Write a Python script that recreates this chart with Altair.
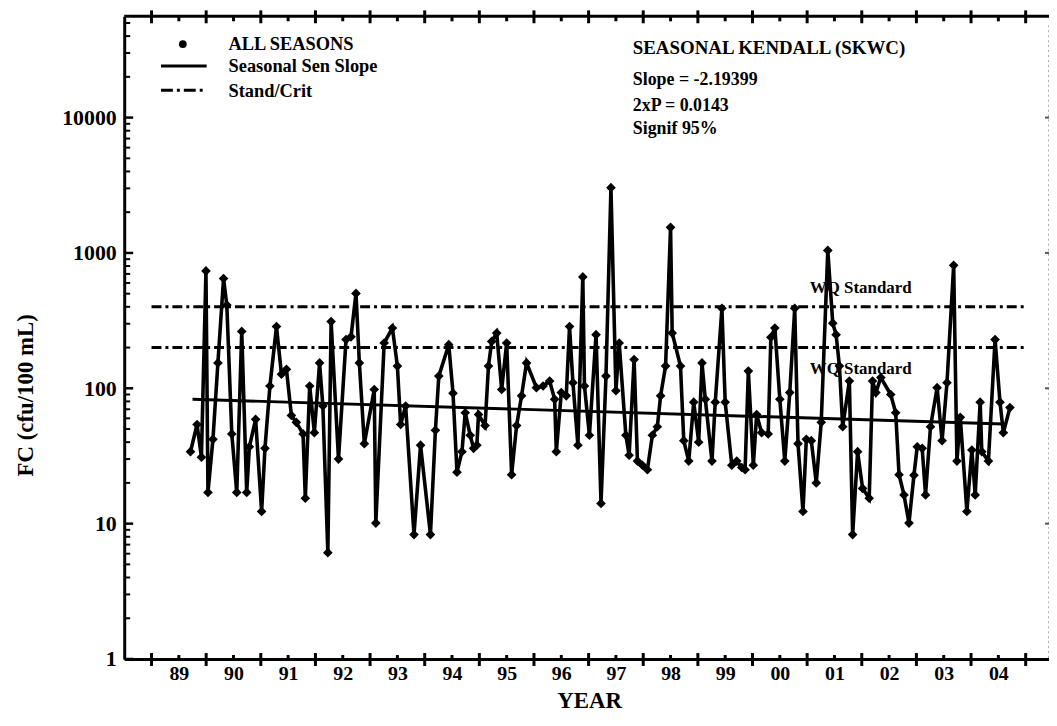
import altair as alt
import pandas as pd

# ---------------- data ----------------
years = [
    1989.213, 1989.333, 1989.413, 1989.496, 1989.533, 1989.624, 1989.715, 1989.818,
    1989.878, 1989.969, 1990.060, 1990.151, 1990.242, 1990.291, 1990.405, 1990.515,
    1990.576, 1990.667, 1990.787, 1990.878, 1990.969, 1991.060, 1991.150, 1991.273,
    1991.315, 1991.395, 1991.480, 1991.576, 1991.636, 1991.727, 1991.787, 1991.922,
    1992.060, 1992.151, 1992.242, 1992.304, 1992.395, 1992.576, 1992.605, 1992.758,
    1992.909, 1993.000, 1993.060, 1993.151, 1993.304, 1993.424, 1993.605, 1993.696,
    1993.758, 1993.940, 1994.018, 1994.091, 1994.182, 1994.242, 1994.333, 1994.395,
    1994.455, 1994.485, 1994.605, 1994.667, 1994.727, 1994.818, 1994.909, 1995.000,
    1995.091, 1995.182, 1995.273, 1995.364, 1995.545, 1995.667, 1995.787, 1995.878,
    1995.909, 1996.000, 1996.091, 1996.151, 1996.213, 1996.304, 1996.394, 1996.424,
    1996.515, 1996.636, 1996.727, 1996.818, 1996.909, 1997.000, 1997.060, 1997.182,
    1997.242, 1997.333, 1997.394, 1997.485, 1997.576, 1997.667, 1997.758, 1997.818,
    1997.909, 1998.000, 1998.030, 1998.182, 1998.242, 1998.333, 1998.424, 1998.515,
    1998.576, 1998.636, 1998.758, 1998.818, 1998.940, 1999.000, 1999.121, 1999.212,
    1999.303, 1999.364, 1999.424, 1999.515, 1999.576, 1999.667, 1999.787, 1999.836,
    1999.909, 2000.000, 2000.091, 2000.182, 2000.273, 2000.333, 2000.424, 2000.485,
    2000.576, 2000.667, 2000.758, 2000.878, 2000.969, 2001.030, 2001.091, 2001.151,
    2001.273, 2001.333, 2001.424, 2001.515, 2001.636, 2001.697, 2001.758, 2001.849,
    2002.030, 2002.121, 2002.182, 2002.273, 2002.364, 2002.455, 2002.515, 2002.606,
    2002.667, 2002.758, 2002.879, 2002.970, 2003.060, 2003.182, 2003.242, 2003.303,
    2003.424, 2003.515, 2003.576, 2003.667, 2003.697, 2003.818, 2003.940, 2004.030,
    2004.091, 2004.212,
]
fc = [
    34, 54, 31, 736, 17, 42, 154, 647,
    412, 46, 17, 263, 17, 37, 59, 12.3,
    36, 104, 286, 127, 138, 63, 56, 46,
    15.4, 104, 47, 154, 74, 6.1, 311, 30,
    229, 240, 502, 154, 39, 98, 10.1, 216,
    279, 146, 54, 74, 8.3, 38, 8.3, 49,
    123, 210, 92, 24, 34, 66, 45, 36,
    38, 64, 53, 146, 222, 256, 98, 216,
    23, 53, 88, 154, 101, 104, 113, 83,
    34, 93, 88, 286, 110, 38, 665, 104,
    45, 249, 14.1, 123, 3035, 96, 216, 45,
    32, 163, 29, 27, 25, 45, 52, 88,
    146, 1545, 256, 146, 41, 29, 79, 40,
    154, 83, 29, 79, 390, 79, 27, 29,
    26, 25, 134, 27, 64, 47, 46, 238,
    279, 83, 29, 93, 390, 39, 12.3, 42,
    41, 20, 56, 1043, 303, 249, 146, 52,
    113, 8.3, 34, 18.2, 15.4, 113, 93, 120,
    90, 66, 23, 16.3, 10.1, 22.8, 37, 36,
    16.3, 52, 101, 41, 110, 810, 29, 61,
    12.3, 35, 16.3, 79, 34, 29, 229, 79,
    47, 72,
]

trend_years = [1989.25, 2004.09]
trend_fc = [83, 54.5]

std_levels = [400, 200]
std_labels = ["WQ Standard", "WQ Standard"]
std_start = [1988.5, 1988.5]
std_end = [2004.5, 2004.5]
std_label_year = [2000.55, 2000.55]

label_years = [1989, 1990, 1991, 1992, 1993, 1994, 1995, 1996,
               1997, 1998, 1999, 2000, 2001, 2002, 2003, 2004]
boundary_years = [1988.5, 1989.5, 1990.5, 1991.5, 1992.5, 1993.5, 1994.5, 1995.5,
                  1996.5, 1997.5, 1998.5, 1999.5, 2000.5, 2001.5, 2002.5, 2003.5, 2004.5]
decade_ticks = [1, 10, 100, 1000, 10000]
minor_ticks = [2, 3, 4, 5, 6, 7, 8, 9,
               20, 30, 40, 50, 60, 70, 80, 90,
               200, 300, 400, 500, 600, 700, 800, 900,
               2000, 3000, 4000, 5000, 6000, 7000, 8000, 9000,
               20000, 30000, 40000, 50000]

legend_labels = ["ALL SEASONS", "Seasonal Sen Slope", "Stand/Crit"]
stats_lines = ["SEASONAL KENDALL (SKWC)", "Slope = -2.19399", "2xP = 0.0143", "Signif 95%"]

# ---------------- chart ----------------
W, H = 931, 647
FONT = "Liberation Serif"

xs = alt.Scale(domain=[1988.0, 2004.927], nice=False, zero=False)
ys = alt.Scale(type="log", domain=[1, 56000], nice=False)

x_axis = alt.Axis(
    values=label_years,
    labelExpr="slice('0' + (datum.value % 100), -2)",
    ticks=False, tickSize=0, grid=False,
    domain=True, domainColor="black", domainWidth=3,
    labelFont=FONT, labelFontSize=20, labelFontWeight="bold", labelColor="black",
    labelPadding=5, labelFlush=False, labelOverlap=False,
    title="YEAR", titleFont=FONT, titleFontSize=23, titleFontWeight="bold",
    titleColor="black", titleX=468, titleY=42, titleBaseline="middle", titleAlign="center",
)
y_axis = alt.Axis(
    values=decade_ticks, format="d",
    ticks=False, tickSize=0, grid=False,
    domain=True, domainColor="black", domainWidth=3,
    labelFont=FONT, labelFontSize=22, labelFontWeight="bold", labelColor="black",
    labelPadding=8, labelFlush=False, labelOverlap=False,
    title="FC (cfu/100 mL)", titleFont=FONT, titleFontSize=23, titleFontWeight="bold",
    titleColor="black", titleX=-99, titleY=381, titleAngle=270,
    titleBaseline="middle", titleAlign="center",
)


def X(field):
    return alt.X(field, type="quantitative", scale=xs, axis=x_axis)


def Y(field):
    return alt.Y(field, type="quantitative", scale=ys, axis=y_axis)


data_df = pd.DataFrame({"year": years, "fc": fc})
trend_df = pd.DataFrame({"year": trend_years, "fc": trend_fc})
std_df = pd.DataFrame({"year": std_start, "year_end": std_end, "fc": std_levels})
one = pd.DataFrame({"k": [0]})

std_rules = alt.Chart(std_df).mark_rule(
    color="black", strokeWidth=3, strokeDash=[10, 4, 3, 4]
).encode(x=X("year"), x2="year_end", y=Y("fc"))

wq_up = alt.Chart(pd.DataFrame({"year": [std_label_year[0]], "fc": [std_levels[0]], "t": [std_labels[0]]})).mark_text(
    align="left", baseline="alphabetic", dy=-14, font=FONT, fontSize=17, fontWeight="bold", color="black"
).encode(x=X("year"), y=Y("fc"), text="t")
wq_lo = alt.Chart(pd.DataFrame({"year": [std_label_year[1]], "fc": [std_levels[1]], "t": [std_labels[1]]})).mark_text(
    align="left", baseline="alphabetic", dy=27, font=FONT, fontSize=17, fontWeight="bold", color="black"
).encode(x=X("year"), y=Y("fc"), text="t")

trend = alt.Chart(trend_df).mark_line(color="black", strokeWidth=3).encode(x=X("year"), y=Y("fc"))
series_line = alt.Chart(data_df).mark_line(color="black", strokeWidth=3.6).encode(x=X("year"), y=Y("fc"))
series_pts = alt.Chart(data_df).mark_point(
    shape="diamond", filled=True, size=95, color="black", opacity=1
).encode(x=X("year"), y=Y("fc"))

# frame and ticks
bt = pd.DataFrame({"year": boundary_years})
lt = pd.DataFrame({"year": label_years})
dt = pd.DataFrame({"fc": decade_ticks})
mt = pd.DataFrame({"fc": minor_ticks})

top_line = alt.Chart(one).mark_rule(color="black", strokeWidth=3).encode(
    x=alt.value(0), x2=alt.value(W), y=alt.value(0))
right_line = alt.Chart(one).mark_rule(color="#777777", strokeWidth=1.2, strokeDash=[2, 3]).encode(
    x=alt.value(W), y=alt.value(9), y2=alt.value(H))

bottom_major = alt.Chart(bt).mark_rule(color="black", strokeWidth=3).encode(
    x=X("year"), y=alt.value(H - 6), y2=alt.value(H + 7))
top_major = alt.Chart(bt).mark_rule(color="black", strokeWidth=3).encode(
    x=X("year"), y=alt.value(-6), y2=alt.value(7))
bottom_minor = alt.Chart(lt).mark_rule(color="black", strokeWidth=3).encode(
    x=X("year"), y=alt.value(H - 4), y2=alt.value(H))
top_minor = alt.Chart(lt).mark_rule(color="black", strokeWidth=3).encode(
    x=X("year"), y=alt.value(0), y2=alt.value(5))
left_major = alt.Chart(dt).mark_rule(color="black", strokeWidth=2.5).encode(
    y=Y("fc"), x=alt.value(0), x2=alt.value(9))
left_minor = alt.Chart(mt).mark_rule(color="black", strokeWidth=2).encode(
    y=Y("fc"), x=alt.value(0), x2=alt.value(6))
right_major = alt.Chart(dt[dt["fc"] > 1]).mark_rule(color="#555555", strokeWidth=2).encode(
    y=Y("fc"), x=alt.value(W - 4), x2=alt.value(W))


def label(txt, x, y, size):
    return alt.Chart(one).mark_text(
        align="left", baseline="middle", font=FONT, fontSize=size, fontWeight="bold", color="black"
    ).encode(x=alt.value(x), y=alt.value(y), text=alt.value(txt))


legend_dot = alt.Chart(one).mark_point(shape="circle", filled=True, size=60, color="black", opacity=1).encode(
    x=alt.value(59), y=alt.value(28))
legend_solid = alt.Chart(one).mark_rule(color="black", strokeWidth=3).encode(
    x=alt.value(37), x2=alt.value(83), y=alt.value(50))
legend_dash = alt.Chart(one).mark_rule(color="black", strokeWidth=3, strokeDash=[12, 4, 3, 4]).encode(
    x=alt.value(37), x2=alt.value(83), y=alt.value(74.5))

texts = [
    label(legend_labels[0], 105, 28, 18.5),
    label(legend_labels[1], 105, 50, 18.5),
    label(legend_labels[2], 105, 75, 18.5),
    label(stats_lines[0], 512, 32, 19),
    label(stats_lines[1], 512, 64, 18),
    label(stats_lines[2], 512, 90, 18),
    label(stats_lines[3], 512, 113, 18),
]

chart = alt.layer(
    std_rules, wq_up, wq_lo, trend, series_line, series_pts,
    top_line, right_line, bottom_major, top_major, bottom_minor, top_minor,
    left_major, left_minor, right_major,
    legend_dot, legend_solid, legend_dash, *texts,
).properties(
    width=W, height=H,
    padding={"left": 117, "top": 6, "right": 0, "bottom": 53},
    autosize=alt.AutoSizeParams(type="none"),
).configure_view(stroke=None)

chart.save("out.html", embed_options={"renderer": "svg", "actions": False})
